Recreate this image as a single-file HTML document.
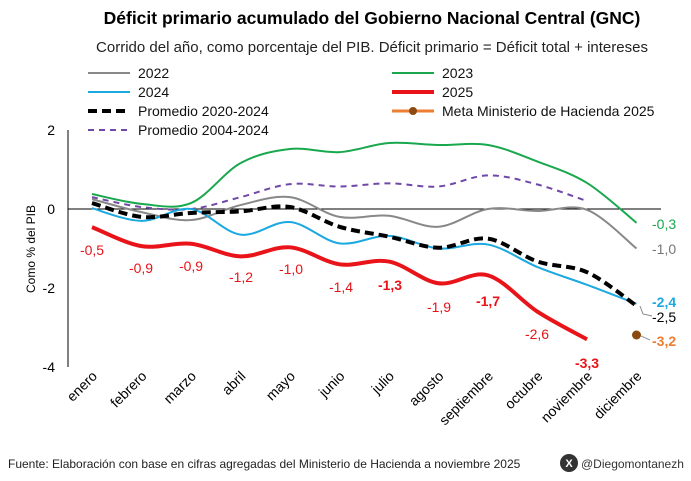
<!DOCTYPE html>
<html><head><meta charset="utf-8"><style>
body{margin:0;background:#fff;width:691px;height:476px;overflow:hidden;font-family:"Liberation Sans",sans-serif}
</style></head><body>
<svg id="s" width="691" height="476" xmlns="http://www.w3.org/2000/svg" font-family="Liberation Sans, sans-serif">
<text x="372" y="24" text-anchor="middle" font-size="17.5" font-weight="bold">Déficit primario acumulado del Gobierno Nacional Central (GNC)</text>
<text x="372" y="52" text-anchor="middle" font-size="15" fill="#222">Corrido del año, como porcentaje del PIB. Déficit primario = Déficit total + intereses</text>
<g font-size="14" fill="#111">
<line x1="88" y1="73" x2="130" y2="73" stroke="#888" stroke-width="2"/><text x="138" y="78">2022</text>
<line x1="392" y1="73" x2="434" y2="73" stroke="#1aa84e" stroke-width="2"/><text x="442" y="78">2023</text>
<line x1="88" y1="92" x2="130" y2="92" stroke="#1ca8e0" stroke-width="2"/><text x="138" y="97">2024</text>
<line x1="392" y1="92" x2="434" y2="92" stroke="#e8141a" stroke-width="4"/><text x="442" y="97">2025</text>
<line x1="88" y1="111" x2="130" y2="111" stroke="#000" stroke-width="4" stroke-dasharray="9,5"/><text x="138" y="116">Promedio 2020-2024</text>
<line x1="392" y1="111" x2="434" y2="111" stroke="#ed7d31" stroke-width="3"/><circle cx="413" cy="111" r="4" fill="#8a4a10"/><text x="442" y="116">Meta Ministerio de Hacienda 2025</text>
<line x1="88" y1="130" x2="130" y2="130" stroke="#7048a8" stroke-width="2" stroke-dasharray="6,5"/><text x="138" y="135">Promedio 2004-2024</text>
</g>
<line x1="68" y1="130" x2="68" y2="367" stroke="#000"/>
<line x1="68" y1="209" x2="661" y2="209" stroke="#000"/>
<g font-size="14" text-anchor="end"><text x="55" y="135">2</text><text x="55" y="214">0</text><text x="55" y="293">-2</text><text x="55" y="372">-4</text></g>
<text transform="translate(35,249) rotate(-90)" font-size="12" text-anchor="middle">Como % del PIB</text>
<g id="xl" font-size="14"></g>
<g id="lines" fill="none"></g>
<circle cx="636.5" cy="335" r="4.5" fill="#8a4a10"/>
<line x1="641" y1="336" x2="650" y2="340" stroke="#999"/>
<polyline points="640,306 643,314 652,316" fill="none" stroke="#888"/>
<g font-size="14" fill="#e8141a" text-anchor="middle">
<text x="92" y="255">-0,5</text><text x="141" y="273">-0,9</text><text x="191" y="271">-0,9</text><text x="241" y="282">-1,2</text><text x="291" y="274">-1,0</text><text x="341" y="292">-1,4</text><text x="390" y="290" font-weight="bold">-1,3</text><text x="439" y="312">-1,9</text><text x="488" y="306" font-weight="bold">-1,7</text><text x="537" y="339">-2,6</text><text x="587" y="368" font-weight="bold">-3,3</text>
</g>
<g font-size="14">
<text x="652" y="229" fill="#1aa84e">-0,3</text>
<text x="652" y="254" fill="#777">-1,0</text>
<text x="652" y="307" fill="#1ca8e0" font-weight="bold">-2,4</text>
<text x="652" y="322" fill="#000">-2,5</text>
<text x="652" y="346" fill="#ed7d31" font-weight="bold">-3,2</text>
</g>
<text x="8" y="468" font-size="12" fill="#222">Fuente: Elaboración con base en cifras agregadas del Ministerio de Hacienda a noviembre 2025</text>
<circle cx="569" cy="463" r="9" fill="#333"/><text x="569" y="467" font-size="11" fill="#fff" text-anchor="middle" font-weight="bold">X</text>
<text x="581" y="468" font-size="12" fill="#333">@Diegomontanezh</text>
</svg>
<script>
const X=i=>92+49.5*i, Y=v=>209-39.5*v;
const months=["enero","febrero","marzo","abril","mayo","junio","julio","agosto","septiembre","octubre","noviembre","diciembre"];
let xl=document.getElementById('xl'),h='';
months.forEach((m,i)=>{h+=`<text transform="translate(${X(i)+6},377) rotate(-45)" text-anchor="end">${m}</text>`});
xl.innerHTML=h;
function path(vals){const p=vals.map((v,i)=>[X(i),Y(v)]);let d=`M${p[0][0]},${p[0][1]}`;
for(let i=0;i<p.length-1;i++){const p0=p[i-1]||p[i],p1=p[i],p2=p[i+1],p3=p[i+2]||p2;const t=6;
d+=` C${p1[0]+(p2[0]-p0[0])/t},${p1[1]+(p2[1]-p0[1])/t} ${p2[0]-(p3[0]-p1[0])/t},${p2[1]-(p3[1]-p1[1])/t} ${p2[0]},${p2[1]}`}return d}
const S=[
[[0.38,0.13,0.15,1.16,1.52,1.44,1.67,1.62,1.62,1.2,0.66,-0.35],'#1aa84e',2,''],
[[0.25,-0.08,-0.28,0.1,0.3,-0.2,-0.17,-0.45,0,-0.05,-0.02,-1.0],'#888',2,''],
[[0.3,0.05,0,0.3,0.63,0.57,0.65,0.57,0.85,0.62,0.2],'#7048a8',2,'6,5'],
[[0.02,-0.3,0,-0.65,-0.33,-0.87,-0.68,-1.0,-0.9,-1.47,-1.92,-2.4],'#1ca8e0',2,''],
[[0.15,-0.2,-0.1,-0.06,0.05,-0.45,-0.7,-0.98,-0.75,-1.33,-1.6,-2.45],'#000',4,'9,5'],
[[-0.46,-0.94,-0.88,-1.2,-0.97,-1.4,-1.33,-1.88,-1.68,-2.6,-3.3],'#e8141a',4,'']];
let g='';S.forEach(s=>{g+=`<path d="${path(s[0])}" stroke="${s[1]}" stroke-width="${s[2]}" ${s[3]?`stroke-dasharray="${s[3]}"`:''}/>`});
document.getElementById('lines').innerHTML=g;
</script>
</body></html>
